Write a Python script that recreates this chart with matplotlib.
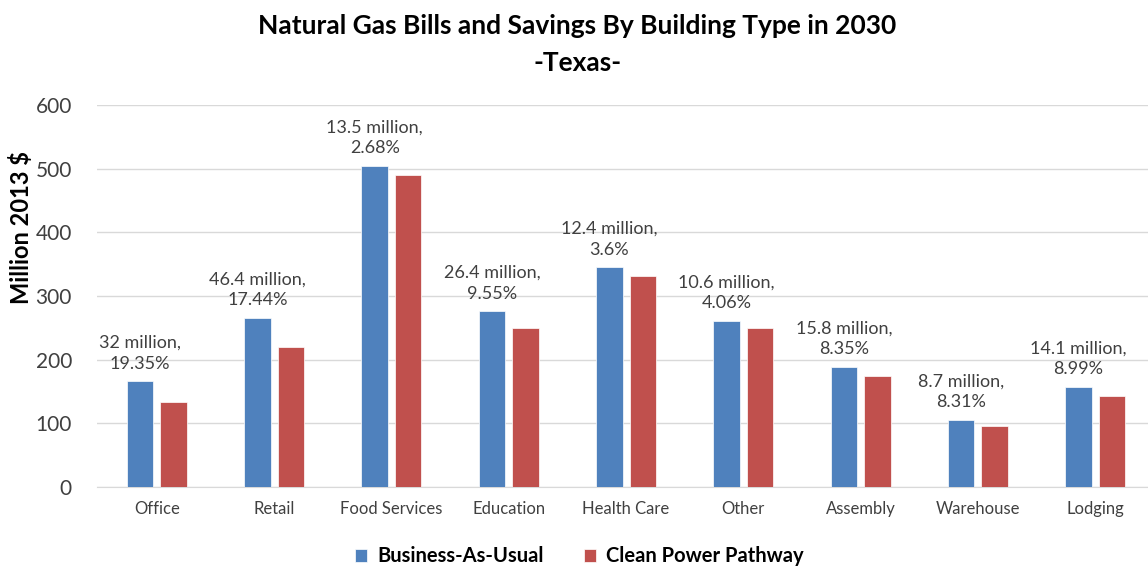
import matplotlib
matplotlib.use("Agg")
import matplotlib.pyplot as plt
import numpy as np

# Data
categories = ["Office", "Retail", "Food Services", "Education", "Health Care",
              "Other", "Assembly", "Warehouse", "Lodging"]
bau = [166, 266, 504, 276, 345, 261, 189, 105, 157]
cpp = [134, 220, 490, 250, 332, 250, 174, 96, 143]
savings = ["32", "46.4", "13.5", "26.4", "12.4", "10.6", "15.8", "8.7", "14.1"]
savings_pct = ["19.35", "17.44", "2.68", "9.55", "3.6", "4.06", "8.35", "8.31", "8.99"]

blue = "#4F81BD"
red = "#C0504D"

plt.rcParams['font.family'] = ['Lato', 'DejaVu Sans']

fig = plt.figure(figsize=(11.48, 5.67), dpi=100)
ax = fig.add_axes([97/1148, 1 - 487/567, 1 - 97/1148, (487 - 105)/567])

x = np.arange(len(categories))
w = 0.226
off = 0.143
ax.bar(x - off, bau, w, color=blue, edgecolor="white", linewidth=0.5,
       label="Business-As-Usual", zorder=3)
ax.bar(x + off, cpp, w, color=red, edgecolor="white", linewidth=0.5,
       label="Clean Power Pathway", zorder=3)

# savings labels sit above the business-as-usual bar
for i in range(len(categories)):
    ax.annotate(f"{savings[i]} million,\n{savings_pct[i]}%",
                (x[i] - off, bau[i]), xytext=(0, 7), textcoords="offset points",
                ha="center", va="bottom", fontsize=13, color="#404040",
                linespacing=1.35)

ax.set_xlim(-0.51, 8.45)
ax.set_ylim(0, 600)
ax.set_yticks(range(0, 601, 100))
ax.set_xticks(x)
ax.set_xticklabels(categories, fontsize=12, color="#404040")
ax.tick_params(axis="y", labelsize=15, colors="#404040", length=0, pad=18)
ax.tick_params(axis="x", length=0, pad=10)
ax.grid(axis="y", color="#D9D9D9", linewidth=1, zorder=0)
for s in ["top", "right", "left"]:
    ax.spines[s].set_visible(False)
ax.spines["bottom"].set_color("#D9D9D9")

ax.set_ylabel("Million 2013 $", fontsize=17, fontweight="bold")
ax.yaxis.set_label_coords(-0.061, 0.68)

fig.text(0.503, 0.954, "Natural Gas Bills and Savings By Building Type in 2030",
         ha="center", va="center", fontsize=19, fontweight="bold")
fig.text(0.503, 0.889, "-Texas-", ha="center", va="center", fontsize=19,
         fontweight="bold")

fig.legend(loc="center", bbox_to_anchor=(0.505, 0.019), ncol=2, frameon=False,
           prop={"size": 14.5, "weight": "bold"}, handlelength=0.6,
           handleheight=0.6, columnspacing=2.0, handletextpad=0.5)

fig.savefig("out.png", dpi=100)
